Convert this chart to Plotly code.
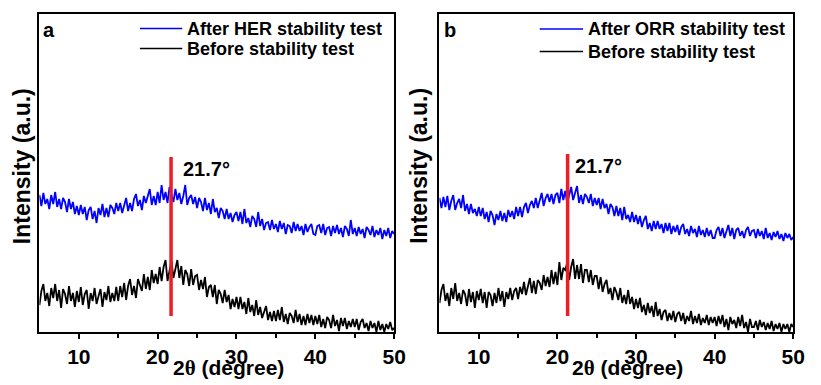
import plotly.graph_objects as go

# 2theta sampling grid (degree), 5 to 50 in 0.25 steps
two_theta = [round(5 + 0.25 * i, 2) for i in range(181)]

# Panel a: after HER stability test (blue), before stability test (black)
her_after = [
    137,126,139,128,133,123,137,128,140,125,133,123,134,130,120,133,123,130,118,126,
    117,127,118,125,112,122,125,113,121,109,124,117,128,115,124,115,127,124,118,129,
    121,129,119,128,134,121,129,121,133,138,126,132,122,136,129,136,143,127,136,127,
    140,129,147,132,140,129,145,137,130,143,132,139,128,136,147,127,134,137,128,135,
    124,134,130,121,134,122,129,118,133,120,124,114,124,121,113,123,113,119,110,117,
    120,111,120,108,123,109,114,105,116,113,105,120,106,113,102,109,110,102,112,103,
    108,100,111,103,109,98,107,106,99,110,101,108,101,106,97,108,100,105,108,98,
    97,106,107,99,108,97,104,105,96,106,99,107,98,104,95,106,103,96,112,98,
    104,96,105,98,103,94,105,102,97,106,95,102,97,104,93,102,96,104,94,101,
    98,
]
her_before = [
    27,41,48,31,39,26,44,34,48,31,42,24,43,38,28,46,31,39,25,41,
    30,45,27,38,42,23,39,31,44,28,36,43,25,40,32,46,30,39,31,45,
    31,46,35,49,32,46,53,37,46,34,53,48,41,58,43,55,42,62,49,58,
    48,65,51,65,72,51,62,71,54,65,72,54,66,47,62,58,46,63,47,56,
    57,42,52,43,55,35,45,47,35,47,28,42,38,29,42,30,37,23,33,25,
    35,23,35,23,30,18,34,20,27,16,32,17,25,14,21,26,12,20,11,21,
    11,22,12,25,10,18,8,19,16,9,22,10,18,7,16,7,18,9,17,7,
    16,8,17,5,13,4,15,12,4,17,6,12,1,14,6,14,3,11,5,13,
    5,13,2,10,13,4,9,1,11,4,9,0,11,2,8,0,8,3,10,2,
    4,
]
# Panel b: after ORR stability test (blue), before stability test (black)
orr_after = [
    134,124,135,125,136,122,131,137,122,129,133,124,137,121,128,118,128,119,123,116,
    125,116,124,113,120,110,121,117,107,118,112,121,111,119,110,122,115,121,113,125,
    116,125,115,125,129,119,127,131,124,134,124,133,139,126,134,138,130,138,128,137,
    139,129,143,132,141,129,138,145,132,140,146,129,137,128,138,135,129,138,126,134,
    127,134,123,133,124,128,118,128,125,116,126,116,124,112,125,113,117,110,120,110,
    117,108,116,105,112,116,103,109,101,111,103,111,103,108,99,109,101,109,98,106,
    100,107,97,105,108,98,103,96,106,99,103,95,106,97,102,95,104,96,102,94,
    94,102,105,96,104,94,101,107,96,104,93,102,104,96,101,94,102,105,96,101,
    102,94,103,96,101,93,104,94,99,92,100,95,101,93,98,91,99,94,98,92,
    95,
]
orr_before = [
    29,42,48,31,39,26,44,33,49,31,39,28,42,38,26,43,30,40,24,41,
    32,43,29,40,24,40,37,26,39,29,44,31,41,25,40,33,44,32,41,44,
    33,45,38,50,37,46,54,39,51,38,52,49,42,57,46,55,45,62,48,60,
    47,70,52,64,62,69,52,65,73,53,67,53,68,49,62,62,50,62,47,56,
    56,43,55,40,48,52,38,44,32,45,40,32,44,29,37,28,42,28,35,23,
    33,24,34,20,27,17,29,19,26,15,30,16,23,12,20,22,11,19,12,21,
    10,18,20,11,19,8,16,11,21,8,16,9,18,7,14,9,17,7,15,9,
    15,6,16,8,17,5,13,2,15,8,12,4,15,6,17,4,10,0,13,5,
    5,11,2,12,5,10,2,9,3,11,1,8,3,9,0,8,3,8,0,8,
    5,
]

# Peak marker lines (x position, y extent)
peak_a_x = [21.7, 21.7]
peak_a_y = [16, 175]
peak_b_x = [21.3, 21.3]
peak_b_y = [16, 178]
peak_label = "21.7°"

legend_a = ["After HER stability test", "Before stability test"]
legend_b = ["After ORR stability test", "Before stability test"]
panel_labels = ["a", "b"]
x_ticks = [10, 20, 30, 40, 50]
x_minor_ticks = [15, 25, 35, 45]
x_title = "2<span style=\"font-family:'Liberation Serif'\">θ</span> (degree)"
y_title = "Intensity (a.u.)"

BLUE = "#0000FF"
BLACK = "#000000"
RED = "#EE1C25"
FONT = "Liberation Sans, Arial, sans-serif"
LW = 1.8

fig = go.Figure()

fig.add_trace(go.Scatter(x=two_theta, y=her_after, mode="lines",
                         line=dict(color=BLUE, width=LW), xaxis="x", yaxis="y",
                         showlegend=False))
fig.add_trace(go.Scatter(x=two_theta, y=her_before, mode="lines",
                         line=dict(color=BLACK, width=LW), xaxis="x", yaxis="y",
                         showlegend=False))
fig.add_trace(go.Scatter(x=peak_a_x, y=peak_a_y, mode="lines",
                         line=dict(color=RED, width=3.5), xaxis="x", yaxis="y",
                         showlegend=False))

fig.add_trace(go.Scatter(x=two_theta, y=orr_after, mode="lines",
                         line=dict(color=BLUE, width=LW), xaxis="x2", yaxis="y2",
                         showlegend=False))
fig.add_trace(go.Scatter(x=two_theta, y=orr_before, mode="lines",
                         line=dict(color=BLACK, width=LW), xaxis="x2", yaxis="y2",
                         showlegend=False))
fig.add_trace(go.Scatter(x=peak_b_x, y=peak_b_y, mode="lines",
                         line=dict(color=RED, width=3.5), xaxis="x2", yaxis="y2",
                         showlegend=False))

W, H = 821, 385
ydom = [(H - 332) / H, (H - 14) / H]
xdom_a = [40 / W, 400 / W]
xdom_b = [446 / W, 805 / W]

xaxis_common = dict(
    range=[5, 50], tickmode="array", tickvals=x_ticks,
    ticks="outside", ticklen=5, tickwidth=1.5, tickcolor=BLACK,
    minor=dict(tickvals=x_minor_ticks, ticks="outside", ticklen=4,
               tickwidth=1.5, tickcolor=BLACK),
    showline=True, linecolor=BLACK, linewidth=1.5, mirror=True,
    showgrid=False, zeroline=False,
    tickfont=dict(family=FONT, size=21, color=BLACK, weight="bold"),
)
yaxis_common = dict(
    range=[0, 318], showticklabels=False, ticks="",
    showline=True, linecolor=BLACK, linewidth=1.5, mirror=True,
    showgrid=False, zeroline=False, domain=ydom,
)

fig.update_layout(
    width=W, height=H,
    margin=dict(l=0, r=0, t=0, b=0),
    paper_bgcolor="white", plot_bgcolor="white",
    showlegend=False,
    xaxis=dict(domain=xdom_a, anchor="y", **xaxis_common),
    yaxis=dict(anchor="x", **yaxis_common),
    xaxis2=dict(domain=xdom_b, anchor="y2", **xaxis_common),
    yaxis2=dict(anchor="x2", **yaxis_common),
)

annotations = []
shapes = []


def panel_decor(xref, yref, labels, panel_letter, line_x0, line_x1, text_x,
                rows_y, letter_x, peak_x, peak_y, xt, ytitle_x):
    # panel letter
    annotations.append(dict(text=panel_letter, xref=xref + " domain", yref=yref + " domain",
                            x=letter_x, y=(332 - 30) / 318, xanchor="left", yanchor="middle",
                            showarrow=False,
                            font=dict(family=FONT, size=20, color=BLACK, weight="bold")))
    # legend
    for lab, col, ry in zip(labels, [BLUE, BLACK], rows_y):
        yd = (332 - ry) / 318
        shapes.append(dict(type="line", xref=xref + " domain", yref=yref + " domain",
                           x0=line_x0, x1=line_x1, y0=yd, y1=yd,
                           line=dict(color=col, width=1.6)))
        annotations.append(dict(text=lab, xref=xref + " domain", yref=yref + " domain",
                                x=text_x, y=yd, xanchor="left", yanchor="middle",
                                showarrow=False,
                                font=dict(family=FONT, size=18, color=BLACK, weight="bold")))
    # peak label
    annotations.append(dict(text=peak_label, xref=xref, yref=yref,
                            x=peak_x, y=peak_y, xanchor="left", yanchor="middle",
                            showarrow=False,
                            font=dict(family=FONT, size=20, color=BLACK, weight="bold")))
    # x title
    annotations.append(dict(text=x_title, xref=xref + " domain", yref="paper",
                            x=xt, y=(H - 368) / H, xanchor="center", yanchor="middle",
                            showarrow=False,
                            font=dict(family=FONT, size=21, color=BLACK, weight="bold")))
    # y title
    annotations.append(dict(text=y_title, xref="paper", yref="paper",
                            x=ytitle_x / W, y=(H - 166) / H, xanchor="center",
                            yanchor="middle", textangle=-90, showarrow=False,
                            font=dict(family=FONT, size=23, color=BLACK, weight="bold")))


panel_decor("x", "y", legend_a, panel_labels[0],
            102 / 360, 145 / 360, 148 / 360, [28.5, 48.5], 2 / 360,
            22.9, 163, (232 - 40) / 360, 22.5)
panel_decor("x2", "y2", legend_b, panel_labels[1],
            (547.7 - 446) / 359, (591.7 - 446) / 359, (594.5 - 446) / 359, [29, 51.5],
            3 / 359, 22.0, 166, (637 - 446) / 359, 425)

fig.update_layout(annotations=annotations, shapes=shapes)

fig.write_html(
    "out.html",
    config={"displayModeBar": False},
    post_script="document.body.style.margin='0';document.body.style.overflow='hidden';",
)
